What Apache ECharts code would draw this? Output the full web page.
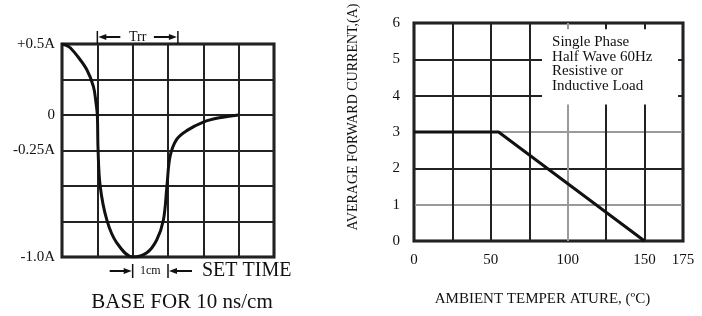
<!DOCTYPE html>
<html>
<head>
<meta charset="utf-8">
<title>Trr / derating</title>
<script src="https://cdn.jsdelivr.net/npm/echarts@6/dist/echarts.min.js"></script>
<style>
  html, body { margin: 0; padding: 0; background: #fff; }
  #chart { width: 702px; height: 316px; }
</style>
</head>
<body>
<div id="chart"></div>
<script>
// left chart: reverse recovery waveform, x in cm (10 ns/cm), y in A
var trrX = [0, 0.2, 0.42, 0.7, 0.89, 0.96, 1.0, 1.02, 1.08, 1.27, 1.55, 2.0, 2.4, 2.68, 2.87, 2.97, 3.06, 3.25, 3.53, 4.0, 4.45, 5.0];
var trrY = [0.5, 0.48, 0.42, 0.32, 0.2, 0.09, 0, -0.24, -0.5, -0.74, -0.9, -1.0, -0.97, -0.88, -0.74, -0.5, -0.29, -0.17, -0.11, -0.05, -0.02, 0];
var leftTickVals = [0.5, 0, -0.25, -1.0];
var leftTickLabels = ['+0.5A', '0', '-0.25A', '-1.0A'];

// right chart: derating curve
var tempX = [0, 55, 150];
var currentY = [3, 3, 0];
var rightXLabels = [0, 50, 100, 150, 175];
var noteLines = ['Single Phase', 'Half Wave 60Hz', 'Resistive or', 'Inductive Load'];

var serif = 'Liberation Serif';
var ink = '#111';

var myChart = echarts.init(document.getElementById('chart'));

function pairs(xs, ys) {
    var out = [];
    for (var i = 0; i < xs.length; i++) {
        out.push([xs[i], ys[i]]);
    }
    return out;
}

var option = {
    animation: false,
    backgroundColor: '#fff',
    grid: [
        {left: 62, top: 44, width: 212, height: 213, show: true, borderColor: ink, borderWidth: 3, backgroundColor: '#fff'},
        {left: 414, top: 23, width: 269, height: 218, show: true, borderColor: ink, borderWidth: 3, backgroundColor: '#fff'}
    ],
    xAxis: [
        {
            gridIndex: 0, type: 'value', min: 0, max: 6, interval: 1,
            axisLine: {show: false}, axisTick: {show: false}, axisLabel: {show: false},
            splitLine: {lineStyle: {color: '#222', width: 2}}
        },
        {
            gridIndex: 1, type: 'value', min: 0, max: 175, interval: 25,
            axisLine: {show: false}, axisTick: {show: false},
            axisLabel: {
                margin: 12, fontFamily: serif, fontSize: 15, color: ink,
                formatter: function (v) {
                    return rightXLabels.indexOf(v) >= 0 ? String(v) : '';
                }
            },
            splitLine: {lineStyle: {color: ['#222', '#222', '#222', '#222', '#9a9a9a', '#222', '#222', '#222'], width: 2}},
            name: 'AMBIENT TEMPER ATURE, (\u00baC)', nameLocation: 'middle', nameGap: 51,
            nameTextStyle: {fontFamily: serif, fontSize: 15, color: ink, padding: [0, 12, 0, 0]}
        }
    ],
    yAxis: [
        {
            gridIndex: 0, type: 'value', min: -1, max: 0.5, interval: 0.25,
            axisLine: {show: false}, axisTick: {show: false},
            axisLabel: {
                margin: 7, fontFamily: serif, fontSize: 15, color: ink,
                formatter: function (v) {
                    for (var i = 0; i < leftTickVals.length; i++) {
                        if (Math.abs(leftTickVals[i] - v) < 1e-6) return leftTickLabels[i];
                    }
                    return '';
                }
            },
            splitLine: {lineStyle: {color: '#222', width: 2}}
        },
        {
            gridIndex: 1, type: 'value', min: 0, max: 6, interval: 1,
            axisLine: {show: false}, axisTick: {show: false},
            axisLabel: {margin: 14, fontFamily: serif, fontSize: 15, color: ink},
            splitLine: {lineStyle: {color: ['#222', '#9a9a9a', '#222', '#9a9a9a', '#222', '#222', '#222'], width: 2}}
        }
    ],
    series: [
        {
            type: 'line', xAxisIndex: 0, yAxisIndex: 0,
            data: pairs(trrX, trrY), smooth: 0.35, showSymbol: false,
            lineStyle: {color: ink, width: 3}
        },
        {
            type: 'line', xAxisIndex: 1, yAxisIndex: 1,
            data: pairs(tempX, currentY), showSymbol: false,
            lineStyle: {color: ink, width: 3}
        }
    ]
};
myChart.setOption(option);

// annotations, placed from the axes' own scales
function px(grid, x, y) {
    return myChart.convertToPixel({gridIndex: grid}, [x, y]);
}

function bar(x, y1, y2) {
    return {type: 'line', shape: {x1: x, y1: y1, x2: x, y2: y2}, style: {stroke: ink, lineWidth: 1.5}};
}

function arrow(tail, tip, y) {
    var d = tip > tail ? 1 : -1;
    return [
        {type: 'line', shape: {x1: tail, y1: y, x2: tip - d * 6, y2: y}, style: {stroke: ink, lineWidth: 2}},
        {type: 'polygon', shape: {points: [[tip, y], [tip - d * 8, y - 3], [tip - d * 8, y + 3]]}, style: {fill: ink}}
    ];
}

function txt(x, y, s, size, align) {
    return {
        type: 'text', x: x, y: y,
        style: {text: s, fontFamily: serif, fontSize: size, fill: ink, align: align || 'center', verticalAlign: 'middle'}
    };
}

var g = [];
var topLeft = px(0, 1, 0.5);
var trrEnd = px(0, 3.28, 0.5);
var ay = topLeft[1] - 7;
g.push(bar(topLeft[0], topLeft[1] - 13, topLeft[1]));
g.push(bar(trrEnd[0], topLeft[1] - 13, topLeft[1]));
g = g.concat(arrow(topLeft[0] + 23, topLeft[0] + 1, ay));
g = g.concat(arrow(trrEnd[0] - 24, trrEnd[0] - 1, ay));
g.push(txt((topLeft[0] + trrEnd[0]) / 2, ay, 'Trr', 14));

var c2 = px(0, 2, -1);
var c3 = px(0, 3, -1);
var by = c2[1] + 14;
g.push(bar(c2[0], c2[1] + 7, c2[1] + 21));
g.push(bar(c3[0], c2[1] + 7, c2[1] + 21));
g = g.concat(arrow(c2[0] - 23, c2[0] - 1, by));
g = g.concat(arrow(c3[0] + 24, c3[0] + 1, by));
g.push(txt((c2[0] + c3[0]) / 2, by, '1cm', 12));
g.push(txt(c3[0] + 34, by, 'SET TIME', 20, 'left'));
g.push(txt(182, 302, 'BASE FOR 10 ns/cm', 21));

// y-axis title of the derating chart
g.push({
    type: 'text', x: 353, y: 117, rotation: Math.PI / 2,
    style: {text: 'AVERAGE FORWARD CURRENT,(A)', fontFamily: serif, fontSize: 14, fill: ink, align: 'center', verticalAlign: 'middle'}
});

// note box on the derating chart
var boxA = px(1, 83.3, 5.83);
var boxB = px(1, 171.8, 3.76);
g.push({
    type: 'rect', z: 10,
    shape: {x: boxA[0], y: boxA[1], width: boxB[0] - boxA[0], height: boxB[1] - boxA[1]},
    style: {fill: '#fff'}
});
g.push({
    type: 'text', z: 11, x: boxA[0] + 10, y: boxA[1] + 6,
    style: {text: noteLines.join('\n'), fontFamily: serif, fontSize: 15, lineHeight: 14.5, fill: ink, align: 'left', verticalAlign: 'top'}
});

myChart.setOption({graphic: g});
</script>
</body>
</html>
